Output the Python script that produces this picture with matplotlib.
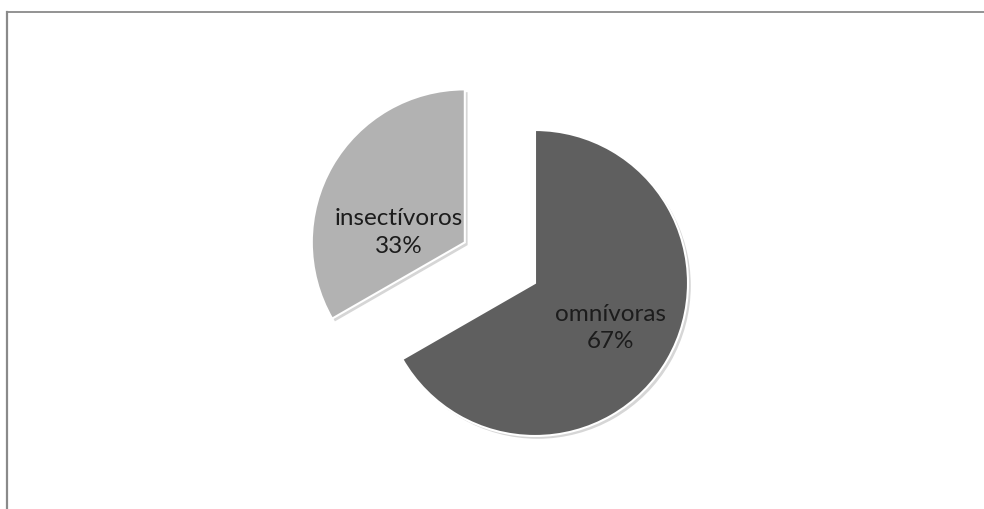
import matplotlib.pyplot as plt
import matplotlib.patheffects as pe
from matplotlib.lines import Line2D

# ── Data ──────────────────────────────────────────────────────────────────────
LABELS = ["omnívoras", "insectívoros"]
SHARES = [66.7, 33.3]
COLORS = ["#5f5f5f", "#b2b2b2"]
EXPLODE = [0.0, 0.53]   # fraction of radius

# ── Figure (work in pixel units) ──────────────────────────────────────────────
W, H = 984, 509
fig = plt.figure(figsize=(W / 100, H / 100), dpi=100)
ax = fig.add_axes([0, 0, 1, 1])

CX, CY, R = 535, H - 283, 153
shadow = [pe.SimplePatchShadow(offset=(2, -2), shadow_rgbFace="#999999", alpha=0.4),
          pe.Normal()]
wedges, _ = ax.pie(SHARES, colors=COLORS, explode=[e * R for e in EXPLODE],
                   startangle=90, counterclock=False, center=(CX, CY), radius=R,
                   frame=True,
                   wedgeprops=dict(edgecolor="white", linewidth=1.5,
                                   path_effects=shadow))
ax.set_xlim(0, W)
ax.set_ylim(0, H)
ax.set_aspect("equal")
ax.axis("off")

# label offsets from each wedge's own centre (pixels, layout only)
LABEL_OFFSETS = [(75, -45), (-66, 10)]
for w, lab, share, (dx, dy) in zip(wedges, LABELS, SHARES, LABEL_OFFSETS):
    cx, cy = w.center
    ax.text(cx + dx, cy + dy, f"{lab}\n{round(share):d}%", ha="center", va="center",
            fontsize=17.5, family=["Lato", "DejaVu Sans"], color="#1c1c1c",
            linespacing=1.4)

# outer frame (top and left edges only visible)
fig.add_artist(Line2D([6.5 / W, 1], [1 - 11.5 / H, 1 - 11.5 / H],
                      transform=fig.transFigure, color="#8a8a8a", lw=1.3))
fig.add_artist(Line2D([6.5 / W, 6.5 / W], [0, 1 - 11.5 / H],
                      transform=fig.transFigure, color="#8a8a8a", lw=1.6))

fig.savefig("out.png", dpi=100)
